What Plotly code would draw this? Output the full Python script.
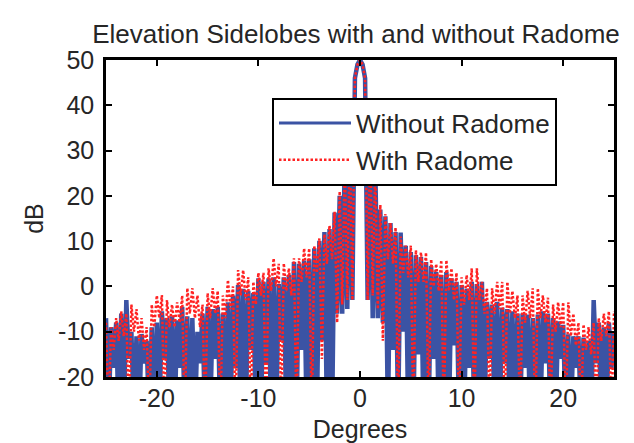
import numpy as np
import plotly.graph_objects as go

# Angle grids (degrees): lobe peaks every 0.5 deg, nulls halfway between
peak_deg = np.linspace(-25, 25, 101)
null_deg = np.linspace(-24.75, 24.75, 100)

# Without Radome (dB) - lobe peak values
without_peaks = [
    -7, -9, -8, -6, -3, -10, -11, -10.5, -12, -9,
    -8, -5.5, -7, -6.6, -7.5, -4.5, -6.6, -7, -10, -6,
    -4.5, -5, -4.5, -6, -3.5, -2, 0.3, -0.5, -1, -1.5,
    1.8, 1, 1.8, 2, 0.5, 2, 2.5, 5.4, 5, 5.7,
    6, 8.4, 10.1, 12, 12.7, 16.3, 20, 28, 33, 46,
    50, 46, 33, 27, 17, 15.5, 14, 12, 11.9, 9,
    7.6, 6.9, 6.5, 5.4, 4.5, 3.2, 2.5, 3.2, 1.8, 1,
    0.3, -0.5, 1, 0.5, 1, -3.4, -4, -3.4, -4.7, -5,
    -5.5, -6, -6, -6.2, -7, -6.2, -5.5, -6, -7, -7.7,
    -8.5, -10.6, -11, -11, -11.3, -12, -3, -8, -9, -8,
    -10,
]
# Without Radome (dB) - null values between lobes
without_nulls = [
    -30, -18, -30, -30, -16, -30, -30, -17, -30, -30,
    -30, -16, -30, -30, -18, -30, -30, -30, -17, -30,
    -30, -16, -30, -30, -30, -18, -30, -30, -14, -30,
    -30, -17, -30, -30, -12, -30, -30, -30, -14, -30,
    -30, -30, -12, -30, -30, -6, -6, -5, -3, 49,
    49, -3, -7, -7, -8, -30, -14, -30, -10, -30,
    -30, -15, -30, -30, -16, -30, -30, -30, -13, -30,
    -30, -18, -30, -30, -30, -16, -30, -30, -17, -30,
    -30, -30, -18, -30, -30, -30, -17, -30, -30, -16,
    -30, -30, -18, -30, -30, -30, -17, -30, -30, -18,
]

# With Radome (dB) - lobe peak values
with_peaks = [
    -8, -9, -7, -5.5, -6, -4, -5, -7, -9, -4,
    -2, -1.9, -3, -4, -3.5, -2, -0.4, -0.4, -2, -4,
    -1.5, -0.4, -1, -2, 1.4, 0, 3.6, 3.6, 2, 1,
    3, 3, 4, 6.2, 5, 5.1, 4, 6.2, 6.2, 8.4,
    8.4, 9, 10.6, 11.5, 13.4, 16.5, 21, 28, 33, 46,
    50, 46, 33, 27, 18, 16, 14, 13, 11, 9,
    9, 8, 7.5, 7.5, 6, 5, 5.8, 5.8, 4, 3,
    2, 2.5, 4, 4, 1, -0.4, -0.4, 1, 1, 1,
    -1, -2, -2, -1, -0.4, -0.4, -2, -2.5, -4, -3.5,
    -3.5, -3.5, -6, -8, -8.4, -9, -8, -7, -6, -5.5,
    -5.5,
]
# With Radome (dB) - null values between lobes
with_nulls = [
    -30, -14, -12, -11, -30, -10, -12, -14, -30, -9,
    -7, -30, -9, -9, -8, -30, -6, -7, -9, -30,
    -7, -6, -30, -7, -5, -30, -2, -3, -30, -4,
    -2, -30, -1, 0, -30, -1, -2, -30, 1, 2,
    -30, 3, -16, 5, 6, -8, -4, -3, -3, 49,
    49, -3, -2, -5, -12, 6, 5, -30, 3, 2,
    -30, 1, 1, -30, 0, -1, -30, -1, -3, -30,
    -4, -3, -30, -3, -6, -30, -6, -5, -30, -6,
    -7, -30, -8, -7, -30, -7, -8, -30, -10, -9,
    -30, -11, -13, -30, -14, -15, -30, -12, -11, -30,
]

x_ticks = [-20, -10, 0, 10, 20]
x_tick_text = ["-20", "-10", "0", "10", "20"]
y_ticks = [-20, -10, 0, 10, 20, 30, 40, 50]
y_tick_text = ["-20", "-10", "0", "10", "20", "30", "40", "50"]


def interleave(peaks, nulls):
    xs = np.empty(len(peaks) + len(nulls))
    ys = np.empty(len(peaks) + len(nulls))
    xs[0::2] = peak_deg
    xs[1::2] = null_deg
    ys[0::2] = peaks
    ys[1::2] = nulls
    return xs, ys


xb, yb = interleave(without_peaks, without_nulls)
xr, yr = interleave(with_peaks, with_nulls)

FONT = "Arial, Liberation Sans, sans-serif"
TXT = "#262626"
BLUE = "#3b53a4"
RED = "#ff2222"
RED_DASH = "2.5px,2px"

fig = go.Figure()
# dense sidelobe traces (drawn with a heavier stroke, as in the print)
fig.add_trace(go.Scatter(x=xb, y=yb, mode="lines", name="Without Radome",
                         legendgroup="a", showlegend=False,
                         line=dict(color=BLUE, width=4.5)))
fig.add_trace(go.Scatter(x=xr, y=yr, mode="lines", name="With Radome",
                         legendgroup="b", showlegend=False,
                         line=dict(color=RED, width=2.5, dash=RED_DASH)))
# legend entries
fig.add_trace(go.Scatter(x=[None], y=[None], mode="lines", name="Without Radome",
                         legendgroup="a", line=dict(color=BLUE, width=3)))
fig.add_trace(go.Scatter(x=[None], y=[None], mode="lines", name="With Radome",
                         legendgroup="b", line=dict(color=RED, width=2.5, dash=RED_DASH)))

axis_common = dict(showline=True, linecolor="black", linewidth=2.5, mirror="ticks",
                   ticks="inside", ticklen=6, tickwidth=2, tickcolor="black",
                   showgrid=False, zeroline=False,
                   tickfont=dict(family=FONT, size=25, color=TXT))

fig.update_layout(
    width=634, height=443,
    margin=dict(l=98, r=28, t=52, b=70),
    paper_bgcolor="white", plot_bgcolor="white",
    font=dict(family=FONT, size=25, color=TXT),
    title=dict(text="Elevation Sidelobes with and without Radome",
               x=(348 - 98) / 508, xref="paper", xanchor="center",
               y=1 - 26 / 443, yref="container", yanchor="middle",
               font=dict(family=FONT, size=26, color=TXT)),
    xaxis=dict(range=[-25, 25], tickvals=x_ticks, ticktext=x_tick_text,
               ticklabelstandoff=-3,
               title=dict(text="Degrees", standoff=10,
                          font=dict(family=FONT, size=25, color=TXT)),
               **axis_common),
    yaxis=dict(range=[-20, 50], tickvals=y_ticks, ticktext=y_tick_text,
               ticklabelstandoff=4,
               title=dict(text="dB", standoff=8,
                          font=dict(family=FONT, size=25, color=TXT)),
               **axis_common),
    legend=dict(x=(264 - 98) / 508, y=(373 - 90) / 321, xanchor="left", yanchor="top",
                bgcolor="white", bordercolor="black", borderwidth=2,
                font=dict(family=FONT, size=26, color=TXT),
                itemwidth=72, tracegroupgap=0),
    showlegend=True,
)

fig.write_html("out.html")
